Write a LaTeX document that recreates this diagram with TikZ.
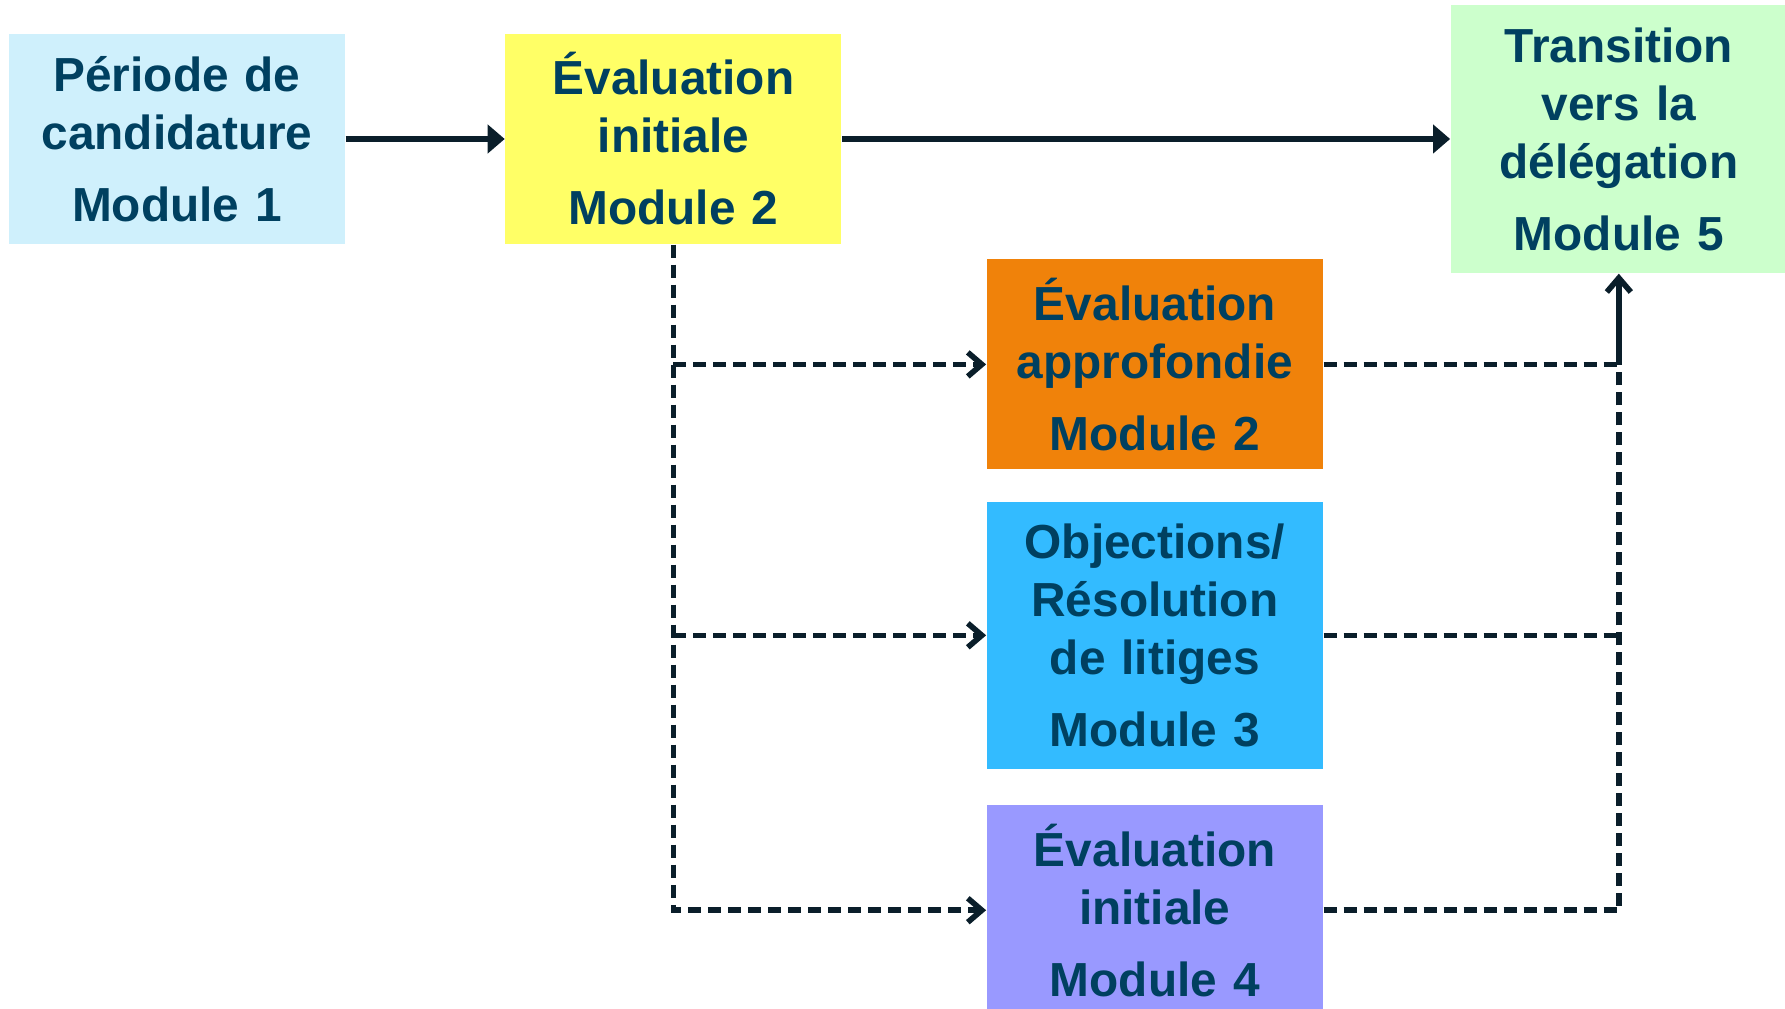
\documentclass[tikz,border=0pt]{standalone}
\usepackage{fontspec}
\setmainfont{Liberation Sans}
\usepackage{tikz}
\usetikzlibrary{positioning}
\usetikzlibrary{arrows.meta}
\definecolor{txt}{RGB}{0,64,96}
\definecolor{arrcol}{RGB}{10,30,42}
\definecolor{candcol}{RGB}{207,240,252}
\definecolor{evalcol}{RGB}{255,255,102}
\definecolor{transcol}{RGB}{204,255,204}
\definecolor{approcol}{RGB}{240,130,10}
\definecolor{objcol}{RGB}{51,187,255}
\definecolor{modfourcol}{RGB}{153,153,255}

\begin{document}
\begin{tikzpicture}[
  modbox/.style={rectangle, minimum width=3.36cm, minimum height=2.1cm,
    inner sep=0pt, text width=3.3cm, align=center, text=txt,
    font=\fontsize{13.6}{16.5}\selectfont\bfseries},
  flow/.style={draw=arrcol, line width=1.7pt, -{Triangle[length=0.17cm,width=0.28cm]}},
  dashline/.style={draw=arrcol, line width=1.6pt, dash pattern=on 0.13cm off 0.07cm},
  branch/.style={dashline, -{Straight Barb[length=0.14cm,width=0.24cm]}},
  rise/.style={draw=arrcol, line width=1.6pt, -{Straight Barb[length=0.14cm,width=0.24cm]}}
]
  \useasboundingbox (0,0) rectangle (17.85,-10.08);

  \node (cand) [modbox, fill=candcol] at (1.77,-1.39)
    {P\'eriode de\\ candidature\\[4pt] Module 1};
  \node (evalinit) [modbox, fill=evalcol, right=1.59cm of cand]
    {\'Evaluation\\ initiale\\[4pt] Module 2};
  \node (trans) [modbox, fill=transcol, minimum height=2.68cm, right=6.08cm of evalinit]
    {Transition\\ vers la\\ d\'el\'egation\\[4pt] Module 5};

  \node (approf) [modbox, fill=approcol, below right=0.14cm and 1.44cm of evalinit]
    {\'Evaluation\\ approfondie\\[4pt] Module 2};
  \node (objections) [modbox, fill=objcol, minimum height=2.67cm, below=0.31cm of approf]
    {Objections/\\ R\'esolution\\ de litiges\\[4pt] Module 3};
  \node (mod4) [modbox, fill=modfourcol, below=0.35cm of objections]
    {\'Evaluation\\ initiale\\[4pt] Module 4};

  \coordinate (merge) at (approf.east -| trans.south);

  \draw[flow] (cand) -- (evalinit);
  \draw[flow] (evalinit) -- (trans);

  %\draw[branch] (evalinit.south) -- (approf.north);
  \draw[branch] (evalinit.south) |- (mod4.west);
  \draw[branch] (evalinit.south |- approf.west) -- (approf.west);
  \draw[branch] (evalinit.south |- objections.west) -- (objections.west);

  \draw[dashline] (approf.east) -- (merge);
  \draw[dashline] (objections.east) -- (objections.east -| merge);
  \draw[dashline] (mod4.east) -| (merge);
  \draw[rise] (merge) -- (trans.south);
\end{tikzpicture}
\end{document}
